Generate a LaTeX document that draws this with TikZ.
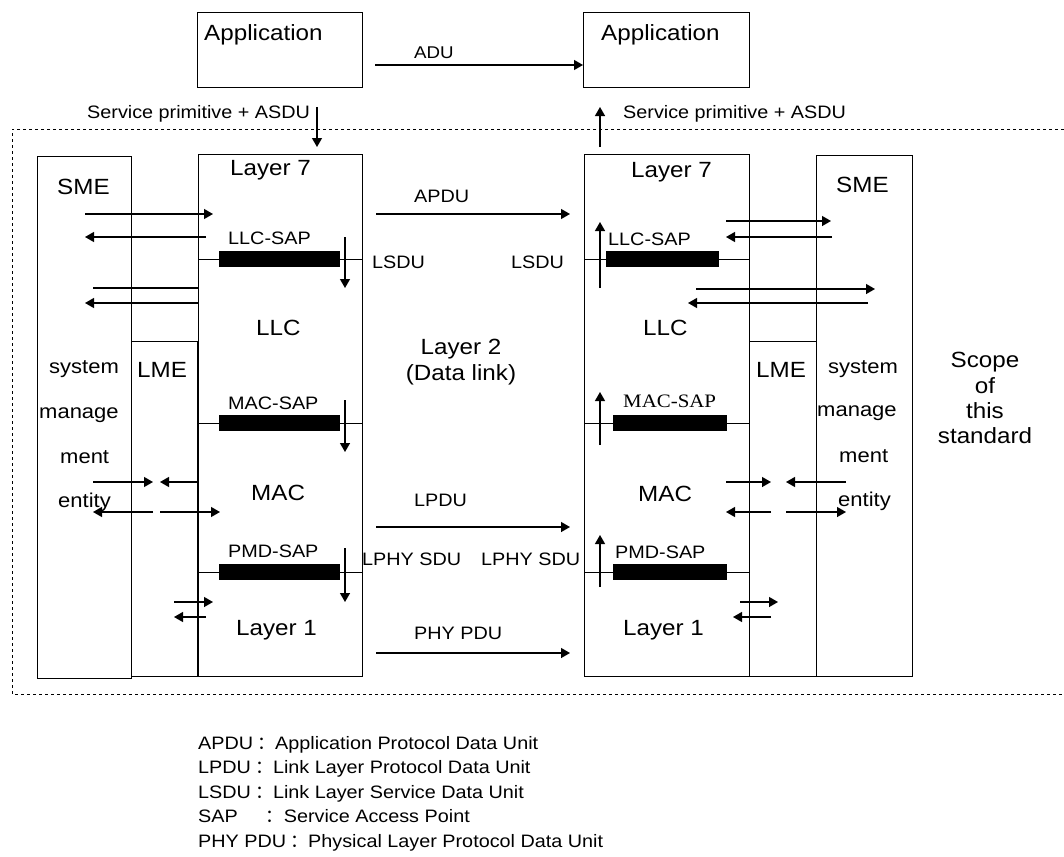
\documentclass[tikz,border=0pt]{standalone}
\usepackage{fontspec}
\setmainfont{Liberation Sans}[FakeStretch=1.1]
\newfontfamily\serifB{Liberation Serif}[FakeStretch=1.1]
\newfontfamily\cjkB{Noto Sans CJK SC}
\usetikzlibrary{arrows.meta}
\newcommand\lgcolon{\hspace{4pt}{\cjkB ：}}
\begin{document}
\begin{tikzpicture}[x=1pt,y=-1pt,
  box/.style={draw, line width=1.3pt, inner sep=0, anchor=north west},
  arr/.style={line width=1.3pt, -{Triangle[length=9pt,width=10pt]}},
  ln/.style={line width=1.3pt},
  sapline/.style={line width=1.2pt},
  bar/.style={fill=black, draw=none, inner sep=0, anchor=north west, minimum height=16pt},
  tb/.style={inner sep=0, anchor=base west, font=\fontsize{22}{26}\selectfont},
  tm/.style={inner sep=0, anchor=base west, font=\fontsize{20}{24}\selectfont},
  ts/.style={inner sep=0, anchor=base west, font=\fontsize{18}{22}\selectfont},
  tc/.style={inner sep=0, anchor=base, font=\fontsize{22}{26}\selectfont},
  bound/.style={line width=1pt, dash pattern=on 3pt off 3pt}
]
\useasboundingbox (0,0) rectangle (1064,856);

% scope boundary
\draw[bound] (1064,129) -- (12,129) -- (12,694) -- (1064,694);

% boxes
\node[box, minimum width=165pt, minimum height=75pt] (AppL) at (197,12) {};
\node[box, minimum width=166pt, minimum height=75pt] (AppR) at (583,12) {};
\node[box, minimum width=94pt, minimum height=522pt] (SMEL) at (37,156) {};
\node[box, minimum width=66pt, minimum height=335pt] (LMEL) at (131,341) {};
\node[box, minimum width=164pt, minimum height=522pt] (StkL) at (198,154) {};
\node[box, minimum width=165pt, minimum height=522pt] (StkR) at (584,154) {};
\node[box, minimum width=67pt, minimum height=335pt] (LMER) at (749,341) {};
\node[box, minimum width=96pt, minimum height=521pt] (SMER) at (816,155) {};

% SAP bars and lines
\node[bar, minimum width=121pt] (barL1) at (219,251) {};
\node[bar, minimum width=121pt] (barL2) at (219,415) {};
\node[bar, minimum width=121pt] (barL3) at (219,564) {};
\node[bar, minimum width=113pt] (barR1) at (606,251) {};
\node[bar, minimum width=114pt] (barR2) at (613,415) {};
\node[bar, minimum width=114pt] (barR3) at (613,564) {};
\foreach \b/\s in {barL1/StkL,barL2/StkL,barL3/StkL,barR1/StkR,barR2/StkR,barR3/StkR}{
  \draw[sapline] (\s.west |- \b.center) -- (\s.east |- \b.center);
}

% texts
\node[tb] (tAppL) at (204,41) {Application};
\node[tb] (tAppR) at (601,41) {Application};
\node[ts, font=\fontsize{17}{20}\selectfont] (tADU) at (414,59) {ADU};
\node[ts] (tSPL) at (87,118) {Service primitive + ASDU};
\node[ts] (tSPR) at (623,118) {Service primitive + ASDU};

\node[tb] (tL7L) at (230,175) {Layer 7};
\node[tb] (tL7R) at (631,177) {Layer 7};
\node[tb] (tSMEL) at (57,194) {SME};
\node[tb] (tSMER) at (836,192) {SME};
\node[ts] (tLSL) at (228,244) {LLC-SAP};
\node[ts] (tLSR) at (608,245) {LLC-SAP};
\node[tb] (tLLCL) at (256,335) {LLC};
\node[tb] (tLLCR) at (643,335) {LLC};
\node[tm] (tsysL) at (49,373) {system};
\node[tm] (tsysR) at (828,373) {system};
\node[tb] (tLMEL) at (137,377) {LME};
\node[tb] (tLMER) at (756,377) {LME};
\node[ts] (tMSL) at (228,409) {MAC-SAP};
\node[ts, font=\fontsize{19}{22}\selectfont\serifB] (tMSR) at (623,407) {MAC-SAP};
\node[tm] (tmanL) at (39,418) {manage};
\node[tm] (tmanR) at (817,416) {manage};
\node[tm] (tmentL) at (60,463) {ment};
\node[tm] (tmentR) at (839,462) {ment};
\node[tm] (tentL) at (58,507) {entity};
\node[tm] (tentR) at (838,506) {entity};
\node[tb] (tMACL) at (251,500) {MAC};
\node[tb] (tMACR) at (638,501) {MAC};
\node[ts] (tPSL) at (228,557) {PMD-SAP};
\node[ts] (tPSR) at (615,558) {PMD-SAP};
\node[tb] (tL1L) at (236,635) {Layer 1};
\node[tb] (tL1R) at (623,635) {Layer 1};

\node[ts] (tAPDU) at (414,202) {APDU};
\node[ts] (tLSDUL) at (372,268) {LSDU};
\node[ts] (tLSDUR) at (511,268) {LSDU};
\node[tc] (tL2a) at (461,354) {Layer 2};
\node[tc] (tL2b) at (461,380) {(Data link)};
\node[ts] (tLPDU) at (414,506) {LPDU};
\node[ts] (tLPHYL) at (362,565) {LPHY SDU};
\node[ts] (tLPHYR) at (481,565) {LPHY SDU};
\node[ts] (tPHYPDU) at (414,639) {PHY PDU};

\node[tc] (tsc1) at (985,367) {Scope};
\node[tc] (tsc2) at (985,393) {of};
\node[tc] (tsc3) at (985,418) {this};
\node[tc] (tsc4) at (985,443) {standard};

% legend
\node[ts] (lg1) at (198,749) {APDU\lgcolon Application Protocol Data Unit};
\node[ts] (lg2) at (198,773.5) {LPDU\lgcolon Link Layer Protocol Data Unit};
\node[ts] (lg3) at (198,798) {LSDU\lgcolon Link Layer Service Data Unit};
\node[ts] (lg4) at (198,822.5) {SAP\hspace{24pt}\lgcolon Service Access Point};
\node[ts] (lg5) at (198,847) {PHY PDU\lgcolon Physical Layer Protocol Data Unit};

% top arrows
\draw[arr] (375,65) coordinate (adus) -- (adus -| AppR.west);
\draw[arr] (317,107) coordinate (spl1) -- (317,147) coordinate (spl2);
\draw[arr] (600,147) coordinate (spr1) -- (600,107) coordinate (spr2);

% middle peer arrows
\draw[arr] (376,214) coordinate (ap1) -- (570,214) coordinate (ap2);
\draw[arr] (376,527) coordinate (lp1) -- (570,527) coordinate (lp2);
\draw[arr] (376,653) coordinate (pp1) -- (570,653) coordinate (pp2);

% left side arrows
\draw[arr] (85,214) coordinate (la1) -- (213,214) coordinate (la2);
\draw[arr] (206,237) coordinate (lb1) -- (85,237) coordinate (lb2);
\draw[ln] (93,288) coordinate (lc1) -- (lc1 -| StkL.west);
\draw[arr] (StkL.west |- 0,303) coordinate (ld1) -- (85,303) coordinate (ld2);
\draw[arr] (345,237) coordinate (le1) -- (345,288) coordinate (le2);
\draw[arr] (345,400) coordinate (lf1) -- (345,452) coordinate (lf2);
\draw[arr] (93,482) coordinate (lg1a) -- (153,482) coordinate (lg1b);
\draw[arr] (StkL.west |- 0,482) coordinate (lh1) -- (160,482) coordinate (lh2);
\draw[arr] (153,512) coordinate (li1) -- (93,512) coordinate (li2);
\draw[arr] (160,512) coordinate (lj1) -- (220,512) coordinate (lj2);
\draw[arr] (345,548) coordinate (lk1) -- (345,602) coordinate (lk2);
\draw[arr] (174,602) coordinate (ll1) -- (213,602) coordinate (ll2);
\draw[arr] (206,617) coordinate (lm1) -- (174,617) coordinate (lm2);

% right side arrows
\draw[arr] (600,288) coordinate (ra1) -- (600,222) coordinate (ra2);
\draw[arr] (726,221) coordinate (rb1) -- (831,221) coordinate (rb2);
\draw[arr] (832,237) coordinate (rc1) -- (726,237) coordinate (rc2);
\draw[arr] (696,289) coordinate (rd1) -- (875,289) coordinate (rd2);
\draw[arr] (868,303) coordinate (re1) -- (688,303) coordinate (re2);
\draw[arr] (600,445) coordinate (rf1) -- (600,392) coordinate (rf2);
\draw[arr] (726,482) coordinate (rg1) -- (771,482) coordinate (rg2);
\draw[arr] (846,482) coordinate (rh1) -- (786,482) coordinate (rh2);
\draw[arr] (771,512) coordinate (ri1) -- (726,512) coordinate (ri2);
\draw[arr] (786,512) coordinate (rj1) -- (846,512) coordinate (rj2);
\draw[arr] (600,587) coordinate (rk1) -- (600,535) coordinate (rk2);
\draw[arr] (740,602) coordinate (rl1) -- (778,602) coordinate (rl2);
\draw[arr] (771,617) coordinate (rm1) -- (733,617) coordinate (rm2);
\end{tikzpicture}
\end{document}
